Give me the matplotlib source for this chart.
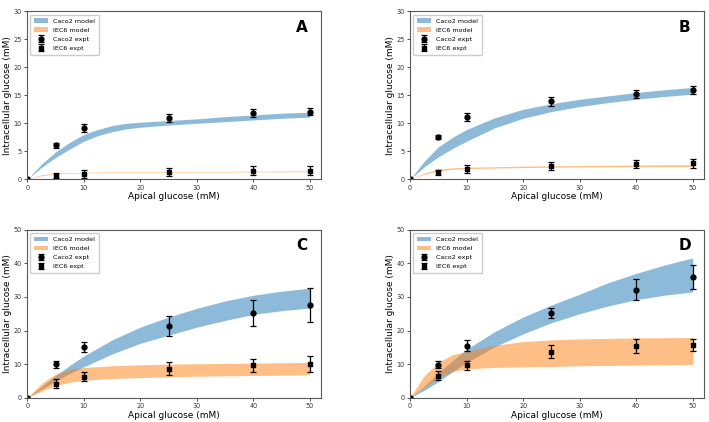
import matplotlib.pyplot as plt

plt.rcParams['font.family'] = 'DejaVu Sans'

# experimental apical glucose concentrations (mM)
x_expt = [0, 5, 10, 25, 40, 50]

# model band x grids
x_band = [0, 2.5, 5, 7.5, 10, 12.5, 15, 17.5, 20, 25, 30, 35, 40, 45, 50]
x_band_b = [0, 2.5, 5, 7.5, 10, 15, 20, 25, 30, 35, 40, 45, 50]
x_iec = [0, 2.5, 5, 7.5, 10, 15, 20, 25, 30, 40, 50]

# ---- Panel A ----
a_caco_lo = [0, 2.1, 3.9, 5.4, 6.8, 7.8, 8.5, 9.0, 9.3, 9.7, 10.0, 10.3, 10.6, 10.9, 11.1]
a_caco_hi = [0, 2.7, 4.9, 6.6, 8.0, 8.9, 9.6, 10.0, 10.2, 10.5, 10.8, 11.2, 11.5, 11.8, 12.0]
a_iec_lo = [0, 0.65, 0.95, 1.08, 1.15, 1.22, 1.25, 1.28, 1.3, 1.33, 1.35]
a_iec_hi = [0, 0.8, 1.1, 1.2, 1.25, 1.32, 1.35, 1.38, 1.4, 1.45, 1.5]
a_caco_y = [0, 6.1, 9.2, 10.9, 11.8, 12.1]
a_caco_err = [0, 0.45, 0.75, 0.7, 0.7, 0.7]
a_iec_y = [0, 0.6, 0.95, 1.35, 1.5, 1.55]
a_iec_err = [0, 0.45, 0.8, 0.75, 0.8, 0.75]

# ---- Panel B ----
b_caco_lo = [0, 2.2, 4.0, 5.5, 6.8, 9.2, 10.9, 12.1, 13.0, 13.7, 14.3, 14.8, 15.2]
b_caco_hi = [0, 3.2, 5.8, 7.5, 8.9, 11.0, 12.5, 13.5, 14.3, 14.9, 15.5, 16.0, 16.4]
b_iec_lo = [0, 0.9, 1.5, 1.8, 1.9, 2.0, 2.1, 2.15, 2.2, 2.25, 2.3]
b_iec_hi = [0, 1.1, 1.8, 2.05, 2.15, 2.25, 2.35, 2.4, 2.45, 2.55, 2.6]
b_caco_y = [0, 7.6, 11.1, 13.9, 15.2, 15.95]
b_caco_err = [0, 0.35, 0.75, 0.75, 0.7, 0.7]
b_iec_y = [0, 1.25, 1.8, 2.4, 2.7, 2.85]
b_iec_err = [0, 0.4, 0.75, 0.75, 0.75, 0.75]

# ---- Panel C ----
c_caco_lo = [0, 2.5, 5.0, 7.2, 9.2, 13.0, 16.2, 18.6, 21.0, 23.0, 24.8, 25.9, 26.7]
c_caco_hi = [0, 3.3, 6.6, 9.6, 12.4, 17.2, 21.0, 24.0, 26.6, 28.8, 30.5, 31.7, 32.6]
c_iec_lo = [0, 1.9, 3.6, 4.6, 5.2, 5.7, 6.0, 6.2, 6.4, 6.6, 6.8]
c_iec_hi = [0, 4.2, 7.0, 8.4, 9.0, 9.5, 9.8, 10.0, 10.1, 10.3, 10.5]
c_caco_y = [0, 9.9, 15.1, 21.4, 25.2, 27.6]
c_caco_err = [0, 1.0, 1.6, 3.0, 4.0, 5.0]
c_iec_y = [0, 4.1, 6.2, 8.6, 9.6, 10.0]
c_iec_err = [0, 1.35, 1.3, 1.9, 2.0, 2.5]

# ---- Panel D ----
d_caco_lo = [0, 2.2, 4.8, 7.7, 10.5, 15.2, 19.0, 22.3, 25.0, 27.3, 29.2, 30.5, 31.5]
d_caco_hi = [0, 3.4, 7.4, 11.0, 14.4, 19.7, 24.0, 27.6, 30.8, 34.2, 37.0, 39.5, 41.6]
d_iec_lo = [0, 3.0, 6.0, 7.8, 8.6, 9.0, 9.2, 9.3, 9.5, 9.7, 9.9]
d_iec_hi = [0, 6.5, 10.5, 12.8, 13.8, 15.6, 16.7, 17.2, 17.5, 17.8, 17.9]
d_caco_y = [0, 9.8, 15.5, 25.3, 32.2, 36.0]
d_caco_err = [0, 1.05, 1.6, 1.5, 3.0, 3.5]
d_iec_y = [0, 6.5, 9.6, 13.7, 15.3, 15.7]
d_iec_err = [0, 1.3, 1.4, 2.0, 2.05, 1.9]

panels = [
    ('A', x_band, a_caco_lo, a_caco_hi, a_iec_lo, a_iec_hi, a_caco_y, a_caco_err, a_iec_y, a_iec_err, 30, 5),
    ('B', x_band_b, b_caco_lo, b_caco_hi, b_iec_lo, b_iec_hi, b_caco_y, b_caco_err, b_iec_y, b_iec_err, 30, 5),
    ('C', x_band_b, c_caco_lo, c_caco_hi, c_iec_lo, c_iec_hi, c_caco_y, c_caco_err, c_iec_y, c_iec_err, 50, 10),
    ('D', x_band_b, d_caco_lo, d_caco_hi, d_iec_lo, d_iec_hi, d_caco_y, d_caco_err, d_iec_y, d_iec_err, 50, 10),
]

# axes rectangles in figure fraction
rects = [
    [0.0385, 0.5751, 0.4143, 0.398],
    [0.5783, 0.5751, 0.4147, 0.398],
    [0.0385, 0.0576, 0.4143, 0.398],
    [0.5783, 0.0576, 0.4147, 0.398],
]

fig = plt.figure(figsize=(7.09, 4.22), dpi=100)

for (label, xb, clo, chi, ilo, ihi, cy, cerr, iy, ierr, ymax, ystep), rect in zip(panels, rects):
    ax = fig.add_axes(rect)
    ax.fill_between(xb, clo, chi, color='#1f77b4', alpha=0.5, linewidth=0, label='Caco2 model')
    ax.fill_between(x_iec, ilo, ihi, color='#ff7f0e', alpha=0.5, linewidth=0, label='IEC6 model')
    ax.errorbar(x_expt, cy, yerr=cerr, fmt='o', color='black', markersize=3.5,
                capsize=2.5, elinewidth=0.9, capthick=0.9, label='Caco2 expt')
    ax.errorbar(x_expt, iy, yerr=ierr, fmt='s', color='black', markersize=3.3,
                capsize=2.5, elinewidth=0.9, capthick=0.9, label='IEC6 expt')
    ax.set_xlim(0, 52)
    ax.set_ylim(0, ymax)
    ax.set_xticks(range(0, 51, 10))
    ax.set_yticks(range(0, ymax + 1, ystep))
    ax.tick_params(labelsize=4.7, length=2.5, width=0.6, pad=1.5, colors='0.2')
    for sp in ax.spines.values():
        sp.set_color('0.35')
        sp.set_linewidth(0.8)
    ax.set_xlabel('Apical glucose (mM)', fontsize=6.5, labelpad=1)
    ax.set_ylabel('Intracellular glucose (mM)', fontsize=6.5, labelpad=1)
    ax.text(0.935, 0.905, label, transform=ax.transAxes, ha='center', va='center',
            fontsize=11, fontweight='bold')
    ax.legend(loc='upper left', fontsize=4.6, framealpha=1, edgecolor='0.8',
              handlelength=2.2, borderpad=0.6, labelspacing=0.55, handletextpad=0.8)

plt.savefig('out.png', dpi=100)
